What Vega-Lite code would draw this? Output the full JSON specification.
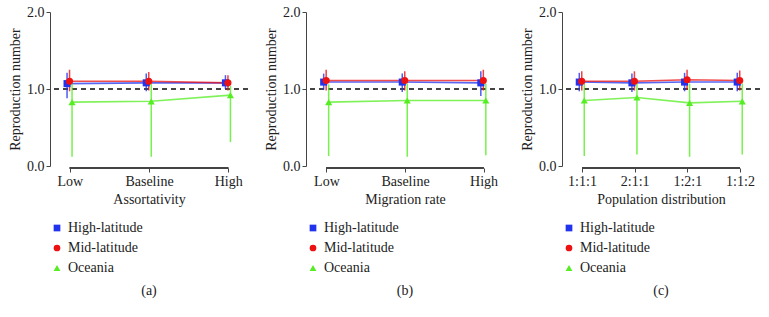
{
  "$schema": "https://vega.github.io/schema/vega-lite/v6.json",
  "padding": {"left": 8, "top": 5, "right": 0, "bottom": 0},
  "spacing": 15,
  "config": {
    "font": "Liberation Serif",
    "text": {"font": "Liberation Serif"},
    "view": {"stroke": null},
    "axis": {"labelFont": "Liberation Serif", "titleFont": "Liberation Serif", "labelFontSize": 14, "titleFontSize": 14, "titleFontWeight": "normal", "labelColor": "#222", "titleColor": "#222", "domainColor": "#444", "tickColor": "#444", "grid": false, "tickSize": 4},
    "axisY": {"labelFont": "Liberation Serif", "titleFont": "Liberation Serif"},
    "legend": {"labelFont": "Liberation Serif", "labelFontSize": 14, "labelColor": "#222", "orient": "bottom", "direction": "vertical", "title": null, "symbolSize": 45, "rowPadding": 6, "offset": 15, "symbolStrokeWidth": 0, "symbolOpacity": 1},
    "title": {"font": "Liberation Serif", "fontSize": 14, "fontWeight": "normal", "color": "#222", "orient": "bottom", "offset": 9}
  },
  "datasets": {
    "a": [
      {"cat": "Low", "series": "High-latitude", "mean": 1.07, "lo": 0.88, "hi": 1.21},
      {"cat": "Baseline", "series": "High-latitude", "mean": 1.08, "lo": 0.97, "hi": 1.20},
      {"cat": "High", "series": "High-latitude", "mean": 1.08, "lo": 1.00, "hi": 1.18},
      {"cat": "Low", "series": "Mid-latitude", "mean": 1.10, "lo": 0.97, "hi": 1.25},
      {"cat": "Baseline", "series": "Mid-latitude", "mean": 1.10, "lo": 0.98, "hi": 1.22},
      {"cat": "High", "series": "Mid-latitude", "mean": 1.08, "lo": 0.98, "hi": 1.18},
      {"cat": "Low", "series": "Oceania", "mean": 0.83, "lo": 0.12, "hi": 1.07},
      {"cat": "Baseline", "series": "Oceania", "mean": 0.84, "lo": 0.12, "hi": 1.08},
      {"cat": "High", "series": "Oceania", "mean": 0.92, "lo": 0.31, "hi": 1.04}
    ],
    "b": [
      {"cat": "Low", "series": "High-latitude", "mean": 1.09, "lo": 0.99, "hi": 1.20},
      {"cat": "Baseline", "series": "High-latitude", "mean": 1.09, "lo": 0.96, "hi": 1.20},
      {"cat": "High", "series": "High-latitude", "mean": 1.08, "lo": 0.91, "hi": 1.23},
      {"cat": "Low", "series": "Mid-latitude", "mean": 1.11, "lo": 0.98, "hi": 1.25},
      {"cat": "Baseline", "series": "Mid-latitude", "mean": 1.11, "lo": 0.98, "hi": 1.23},
      {"cat": "High", "series": "Mid-latitude", "mean": 1.11, "lo": 0.98, "hi": 1.25},
      {"cat": "Low", "series": "Oceania", "mean": 0.83, "lo": 0.13, "hi": 1.06},
      {"cat": "Baseline", "series": "Oceania", "mean": 0.85, "lo": 0.12, "hi": 1.07},
      {"cat": "High", "series": "Oceania", "mean": 0.85, "lo": 0.14, "hi": 1.07}
    ],
    "c": [
      {"cat": "1:1:1", "series": "High-latitude", "mean": 1.09, "lo": 0.97, "hi": 1.21},
      {"cat": "2:1:1", "series": "High-latitude", "mean": 1.08, "lo": 0.96, "hi": 1.20},
      {"cat": "1:2:1", "series": "High-latitude", "mean": 1.09, "lo": 0.97, "hi": 1.21},
      {"cat": "1:1:2", "series": "High-latitude", "mean": 1.09, "lo": 0.97, "hi": 1.21},
      {"cat": "1:1:1", "series": "Mid-latitude", "mean": 1.10, "lo": 0.98, "hi": 1.23},
      {"cat": "2:1:1", "series": "Mid-latitude", "mean": 1.10, "lo": 0.98, "hi": 1.23},
      {"cat": "1:2:1", "series": "Mid-latitude", "mean": 1.12, "lo": 0.99, "hi": 1.25},
      {"cat": "1:1:2", "series": "Mid-latitude", "mean": 1.11, "lo": 0.98, "hi": 1.24},
      {"cat": "1:1:1", "series": "Oceania", "mean": 0.85, "lo": 0.13, "hi": 1.07},
      {"cat": "2:1:1", "series": "Oceania", "mean": 0.89, "lo": 0.15, "hi": 1.07},
      {"cat": "1:2:1", "series": "Oceania", "mean": 0.82, "lo": 0.12, "hi": 1.07},
      {"cat": "1:1:2", "series": "Oceania", "mean": 0.84, "lo": 0.15, "hi": 1.07}
    ]
  },
  "resolve": {"scale": {"color": "independent", "shape": "independent"}},
  "hconcat": [
    {
      "data": {"name": "a"},
      "width": 198, "height": 154,
      "title": "(a)",
      "encoding": {
        "x": {"field": "cat", "type": "nominal", "sort": ["Low", "Baseline", "High"], "scale": {"type": "point", "padding": 0.25}, "title": "Assortativity", "axis": {"labelAngle": 0, "domain": false, "offset": 2}},
        "xOffset": {"field": "series", "type": "nominal", "scale": {"type": "point", "range": [-4, 3.5]}}
      },
      "layer": [
        {"mark": {"type": "rule", "strokeDash": [5, 4], "color": "#444", "strokeWidth": 1}, "encoding": {"y": {"datum": 1}, "x": null, "xOffset": null}},
        {"mark": {"type": "rule", "color": "#444", "yOffset": 2}, "encoding": {"x": {"datum": "Low"}, "x2": {"datum": "High"}, "y": {"datum": 0}, "xOffset": null}},
        {"mark": {"type": "line", "strokeWidth": 1.6, "opacity": 0.75}, "encoding": {"y": {"field": "mean", "type": "quantitative"}, "color": {"field": "series", "type": "nominal"}}},
        {"mark": {"type": "rule", "strokeWidth": 1.5, "opacity": 0.8}, "encoding": {"y": {"field": "lo", "type": "quantitative"}, "y2": {"field": "hi"}, "color": {"field": "series", "type": "nominal"}}},
        {"mark": {"type": "point", "filled": true, "opacity": 1, "size": 50}, "encoding": {
          "y": {"field": "mean", "type": "quantitative", "scale": {"domain": [0, 2]}, "title": "Reproduction number", "axis": {"values": [0, 0.5, 1, 1.5, 2], "format": ".1f", "labelFont": "Liberation Serif", "titleFont": "Liberation Serif"}},
          "color": {"field": "series", "type": "nominal", "scale": {"domain": ["High-latitude", "Mid-latitude", "Oceania"], "range": ["#2233ee", "#ee1111", "#55ee22"]}, "legend": {"labelFont": "Liberation Serif"}},
          "shape": {"field": "series", "type": "nominal", "scale": {"domain": ["High-latitude", "Mid-latitude", "Oceania"], "range": ["square", "circle", "triangle-up"]}, "legend": {"labelFont": "Liberation Serif"}}}}
      ]
    },
    {
      "data": {"name": "b"},
      "width": 198, "height": 154,
      "title": "(b)",
      "encoding": {
        "x": {"field": "cat", "type": "nominal", "sort": ["Low", "Baseline", "High"], "scale": {"type": "point", "padding": 0.26}, "title": "Migration rate", "axis": {"labelAngle": 0, "domain": false, "offset": 2}},
        "xOffset": {"field": "series", "type": "nominal", "scale": {"type": "point", "range": [-4, 3.5]}}
      },
      "layer": [
        {"mark": {"type": "rule", "strokeDash": [5, 4], "color": "#444", "strokeWidth": 1}, "encoding": {"y": {"datum": 1}, "x": null, "xOffset": null}},
        {"mark": {"type": "rule", "color": "#444", "yOffset": 2}, "encoding": {"x": {"datum": "Low"}, "x2": {"datum": "High"}, "y": {"datum": 0}, "xOffset": null}},
        {"mark": {"type": "line", "strokeWidth": 1.6, "opacity": 0.75}, "encoding": {"y": {"field": "mean", "type": "quantitative"}, "color": {"field": "series", "type": "nominal"}}},
        {"mark": {"type": "rule", "strokeWidth": 1.5, "opacity": 0.8}, "encoding": {"y": {"field": "lo", "type": "quantitative"}, "y2": {"field": "hi"}, "color": {"field": "series", "type": "nominal"}}},
        {"mark": {"type": "point", "filled": true, "opacity": 1, "size": 50}, "encoding": {
          "y": {"field": "mean", "type": "quantitative", "scale": {"domain": [0, 2]}, "title": "Reproduction number", "axis": {"values": [0, 0.5, 1, 1.5, 2], "format": ".1f", "labelFont": "Liberation Serif", "titleFont": "Liberation Serif"}},
          "color": {"field": "series", "type": "nominal", "scale": {"domain": ["High-latitude", "Mid-latitude", "Oceania"], "range": ["#2233ee", "#ee1111", "#55ee22"]}, "legend": {"labelFont": "Liberation Serif"}},
          "shape": {"field": "series", "type": "nominal", "scale": {"domain": ["High-latitude", "Mid-latitude", "Oceania"], "range": ["square", "circle", "triangle-up"]}, "legend": {"labelFont": "Liberation Serif"}}}}
      ]
    },
    {
      "data": {"name": "c"},
      "width": 198, "height": 154,
      "title": "(c)",
      "encoding": {
        "x": {"field": "cat", "type": "nominal", "sort": ["1:1:1", "2:1:1", "1:2:1", "1:1:2"], "scale": {"type": "point", "padding": 0.38}, "title": "Population distribution", "axis": {"labelAngle": 0, "domain": false, "offset": 2}},
        "xOffset": {"field": "series", "type": "nominal", "scale": {"type": "point", "range": [-4, 3.5]}}
      },
      "layer": [
        {"mark": {"type": "rule", "strokeDash": [5, 4], "color": "#444", "strokeWidth": 1}, "encoding": {"y": {"datum": 1}, "x": null, "xOffset": null}},
        {"mark": {"type": "rule", "color": "#444", "yOffset": 2}, "encoding": {"x": {"datum": "1:1:1"}, "x2": {"datum": "1:1:2"}, "y": {"datum": 0}, "xOffset": null}},
        {"mark": {"type": "line", "strokeWidth": 1.6, "opacity": 0.75}, "encoding": {"y": {"field": "mean", "type": "quantitative"}, "color": {"field": "series", "type": "nominal"}}},
        {"mark": {"type": "rule", "strokeWidth": 1.5, "opacity": 0.8}, "encoding": {"y": {"field": "lo", "type": "quantitative"}, "y2": {"field": "hi"}, "color": {"field": "series", "type": "nominal"}}},
        {"mark": {"type": "point", "filled": true, "opacity": 1, "size": 50}, "encoding": {
          "y": {"field": "mean", "type": "quantitative", "scale": {"domain": [0, 2]}, "title": "Reproduction number", "axis": {"values": [0, 0.5, 1, 1.5, 2], "format": ".1f", "labelFont": "Liberation Serif", "titleFont": "Liberation Serif"}},
          "color": {"field": "series", "type": "nominal", "scale": {"domain": ["High-latitude", "Mid-latitude", "Oceania"], "range": ["#2233ee", "#ee1111", "#55ee22"]}, "legend": {"labelFont": "Liberation Serif"}},
          "shape": {"field": "series", "type": "nominal", "scale": {"domain": ["High-latitude", "Mid-latitude", "Oceania"], "range": ["square", "circle", "triangle-up"]}, "legend": {"labelFont": "Liberation Serif"}}}}
      ]
    }
  ]
}
